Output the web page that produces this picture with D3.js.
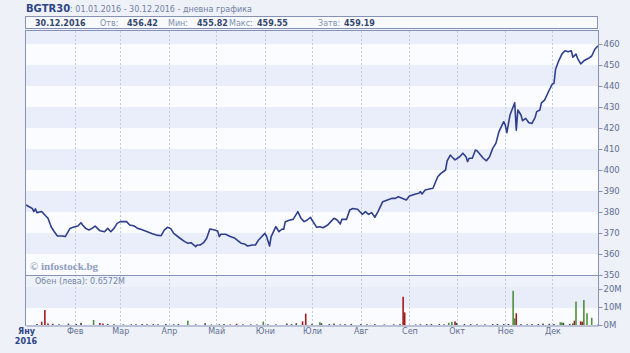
<!DOCTYPE html>
<html>
<head>
<meta charset="utf-8">
<script src="https://cdn.jsdelivr.net/npm/d3@7"></script>
<style>
  body { margin: 0; background: #eef1f8; }
  svg { display: block; }
  text { font-family: "DejaVu Sans", Verdana, sans-serif; }
</style>
</head>
<body>
<svg id="chart" width="630" height="353"></svg>
<script>
// price series (BGTR30, 2016)
var priceDates = ["01-01","01-03","01-05","01-06","01-07","01-08","01-11","01-13","01-15","01-17","01-19","01-21","01-24","01-26","01-29","01-31",
  "02-03","02-05","02-06","02-08","02-10","02-12","02-14","02-17","02-20","02-22","02-24","02-26","02-28",
  "03-01","03-05","03-07","03-10","03-12","03-14","03-17","03-21","03-24","03-27","03-29","03-31",
  "04-02","04-04","04-08","04-11","04-13","04-15","04-18","04-19","04-21","04-23","04-25","04-27","04-30",
  "05-02","05-03","05-04","05-07","05-10","05-13","05-17","05-19","05-21","05-24","05-26","05-28",
  "06-01","06-02","06-04","06-05","06-08","06-10","06-12","06-13","06-14","06-17","06-19","06-22","06-24","06-26","06-28","06-30",
  "07-01","07-04","07-06","07-08","07-11","07-13","07-15","07-17","07-19","07-20","07-23","07-25","07-27","07-30",
  "08-02","08-04","08-06","08-08","08-10","08-12","08-15","08-18","08-21","08-23","08-25","08-30",
  "09-01","09-05","09-07","09-08","09-09","09-11","09-13","09-16","09-19","09-21","09-24","09-25","09-27","09-28","09-30",
  "10-03","10-05","10-07","10-08","10-09","10-11","10-13","10-14","10-18","10-20","10-22","10-24","10-26","10-28","10-31",
  "11-01","11-02","11-04","11-07","11-08","11-09","11-11","11-12","11-14","11-16","11-18","11-20","11-21","11-23","11-24","11-26","11-29",
  "12-01","12-02","12-03","12-05","12-07","12-09","12-11","12-13","12-14","12-16","12-17","12-19","12-21","12-24","12-26","12-28","12-30"];
var priceValues = [383.3,382.5,381.7,380.2,381.5,379.7,380.2,378.6,377,373,370.6,368.6,368.6,368.3,372.2,372.7,
  373.3,374.9,373.8,372.2,371.4,372.2,373.3,371.1,370.6,372.2,370.6,372.2,374.6,
  375.4,375.4,373.8,373.3,372.2,371.8,371,369.8,369,368.7,371.4,372.7,
  372.2,369.8,367.5,365.9,365.1,365.4,363.5,364.3,364.3,365.4,367.5,371.9,371.4,
  370.9,368.3,369.4,369.4,368.3,367.5,365.1,364.8,363.8,364.3,364.3,366.7,
  369.8,368.6,363.8,368.3,373,370.6,371.9,371.8,375.4,376.2,376.5,380.2,377,375.4,376.2,377.5,
  376.2,372.7,373,372.5,373.8,375.4,377,376.2,374.3,376.5,376.5,381,381.7,381.3,
  378.9,380.2,378.9,379.7,377.5,380.2,384.9,385.7,386.5,386.5,387.3,385.7,
  387.6,388.6,388.9,389.7,388.6,390.5,390.8,391.3,396.8,398.4,400,404.3,407.1,406.3,404.8,
  406.3,408,406.3,404,405.6,405.6,409.5,409.2,405.6,404.4,406.3,410.3,412.7,418.3,423,
  421.4,417.8,426.2,432,419,428.6,426.2,423.5,424.6,422.5,422.2,425.1,427.8,428.6,432,433.3,438.1,
  441,441.3,448,452,455.2,456.8,456.3,456.8,453.7,455.2,453.2,450.5,452,453.2,454.3,457.5,459.19];

// turnover in millions of leva; u = up day, d = down day, n = small/flat
var volDates = ["01-08","01-11","01-13","01-15","01-18","01-22","01-28","02-02","02-05","02-13","02-17","02-19","02-22","02-26",
  "03-03","03-08","03-11","03-15","03-18","03-22","03-25","03-30","04-04","04-07","04-13","04-18","04-24","04-28",
  "05-03","05-06","05-10","05-14","05-18","05-23","05-27","05-31","06-03","06-08","06-15","06-18","06-21","06-25","06-27",
  "07-01","07-06","07-07","07-12","07-15","07-19","07-22","07-26","08-01","08-05","08-10","08-16","08-22","08-26","08-28","08-29",
  "09-05","09-08","09-12","09-15","09-20","09-23","09-26","09-28","09-30","10-01","10-06","10-10","10-14","10-19","10-24","10-27","10-31",
  "11-03","11-06","11-07","11-08","11-11","11-15","11-18","11-22","11-25","11-29",
  "12-02","12-06","12-07","12-08","12-12","12-14","12-15","12-16","12-19","12-20","12-21","12-23","12-26","12-30"];
var volValues = [0.5,1.8,8.3,0.9,0.7,0.4,0.8,0.5,1.2,2.8,1.1,0.8,0.6,0.4,
  0.3,0.4,0.4,0.5,0.4,0.5,0.4,0.6,0.4,0.5,2.4,0.4,1.0,0.3,
  0.4,0.5,0.3,0.7,0.4,0.4,0.3,1.9,0.4,0.4,0.8,0.5,1.0,2.0,6.3,
  0.6,1.6,1.0,0.5,0.8,0.4,0.5,0.6,0.5,0.4,0.5,0.3,0.4,0.5,15.7,7.0,
  0.3,0.4,0.5,0.6,0.5,0.4,1.3,1.8,2.0,1.2,0.6,0.5,0.4,0.4,0.5,0.6,0.5,
  0.6,19,3.7,6.5,0.5,0.4,0.5,0.6,0.8,0.7,
  0.6,1.5,1.4,1.2,0.6,0.8,2.4,13,2.0,1.8,13.9,6.5,4.0,0.3];
var volDir = ["n","d","d","d","n","n","n","n","n","u","d","d","n","n",
  "n","n","n","n","n","n","n","n","n","n","u","n","n","n",
  "n","n","n","d","n","n","n","u","n","n","n","n","n","d","d",
  "n","u","n","n","n","n","n","n","n","n","n","n","n","n","d","d",
  "n","n","n","n","n","n","u","u","d","n","n","n","n","n","n","n","n",
  "n","u","u","d","n","n","n","n","n","n",
  "n","u","u","n","n","n","d","u","d","d","u","u","u","n"];

var monthNames = ["Яну","Фев","Мар","Апр","Май","Юни","Юли","Авг","Сеп","Окт","Ное","Дек"];
var priceTicks = [350,360,370,380,390,400,410,420,430,440,450,460];
var volTicks = [0,10,20];

var svg = d3.select("#chart");
var parse = function(s) { return d3.timeParse("%Y-%m-%d")("2016-" + s); };

var left = 26, right = 598;
var mainTop = 31, mainBottom = 275;
var volTop = 276, volBottom = 325;

var x = d3.scaleTime()
    .domain([new Date(2016, 0, 1), new Date(2016, 11, 30)])
    .range([left, right]);
var y = d3.scaleLinear().domain([350, 466.2]).range([mainBottom, mainTop]);
var yv = d3.scaleLinear().domain([0, 20]).range([volBottom, 289]);

var axisCol = "#8592b5";
var labelCol = "#5f6f92";

// title
var title = svg.append("text").attr("x", 26).attr("y", 12).style("font-size", "8px");
title.append("tspan").text("BGTR30").style("font-weight", "bold").style("font-size", "10px").attr("fill", "#2c4585");
title.append("tspan").text(": 01.01.2016 - 30.12.2016 - дневна графика").attr("fill", "#7080a5");

// header box
svg.append("rect").attr("x", 25.5).attr("y", 16.5).attr("width", 572).attr("height", 12)
    .attr("fill", "#f9fafd").attr("stroke", axisCol);
var hdr = [
  {t: "30.12.2016", x: 35, b: true},
  {t: "Отв:", x: 100, b: false}, {t: "456.42", x: 127, b: true},
  {t: "Мин:", x: 168, b: false}, {t: "455.82", x: 197, b: true},
  {t: "Макс:", x: 229, b: false}, {t: "459.55", x: 257, b: true},
  {t: "Затв:", x: 318, b: false}, {t: "459.19", x: 344, b: true}
];
svg.selectAll("text.hdr").data(hdr).enter().append("text")
    .attr("class", "hdr")
    .attr("x", function(d) { return d.x; })
    .attr("y", 26)
    .style("font-size", "8px")
    .style("font-weight", function(d) { return d.b ? "bold" : "normal"; })
    .attr("fill", function(d) { return d.b ? "#33466e" : "#8290ae"; })
    .text(function(d) { return d.t; });

// main panel bands
svg.append("rect").attr("x", left).attr("y", mainTop).attr("width", right - left)
    .attr("height", mainBottom - mainTop).attr("fill", "#e9eefa");
svg.selectAll("rect.band").data(priceTicks.slice(0, -1)).enter().append("rect")
    .attr("class", "band")
    .attr("x", left)
    .attr("y", function(d) { return y(d + 10); })
    .attr("width", right - left)
    .attr("height", function(d) { return y(d) - y(d + 10); })
    .attr("fill", function(d, i) { return i % 2 == 0 ? "#fbfcff" : "#e9eefa"; });

// volume panel bands
svg.append("rect").attr("x", left).attr("y", volTop).attr("width", right - left)
    .attr("height", volBottom - volTop).attr("fill", "#eef2fa");
svg.append("rect").attr("x", left).attr("y", yv(20) - 2).attr("width", right - left)
    .attr("height", yv(10) - yv(20) + 3).attr("fill", "#e8edf9");
svg.append("rect").attr("x", left).attr("y", yv(10) + 1).attr("width", right - left)
    .attr("height", yv(0) - yv(10) - 1).attr("fill", "#fbfcff");

// month gridlines
var months = d3.timeMonth.range(new Date(2016, 0, 1), new Date(2016, 11, 31));
svg.selectAll("line.grid").data(months.slice(1)).enter().append("line")
    .attr("class", "grid")
    .attr("x1", function(d) { return Math.round(x(d)) + 0.5; })
    .attr("x2", function(d) { return Math.round(x(d)) + 0.5; })
    .attr("y1", mainTop).attr("y2", volBottom)
    .attr("stroke", "#c3cbe2").attr("stroke-dasharray", "2,2");

// watermark
svg.append("text").attr("x", 30).attr("y", 270)
    .style("font-family", "'Liberation Serif', 'DejaVu Serif', serif")
    .style("font-weight", "bold").style("font-size", "11px")
    .attr("fill", "#8e9cc0").text("© infostock.bg");

// price line
var pts = priceDates.map(function(d, i) { return [parse(d), priceValues[i]]; });
var line = d3.line()
    .x(function(d) { return x(d[0]); })
    .y(function(d) { return y(d[1]); });
svg.append("path").datum(pts)
    .attr("d", line)
    .attr("fill", "none")
    .attr("stroke", "#2f3f8c")
    .attr("stroke-width", 1.6)
    .attr("stroke-linejoin", "round");

// volume bars
var dirCol = {u: "#4f8f3f", d: "#a11c1c", n: "#3d4a3d"};
svg.selectAll("rect.vol").data(volDates).enter().append("rect")
    .attr("class", "vol")
    .attr("x", function(d) { return x(parse(d)) - 0.8; })
    .attr("y", function(d, i) { return yv(volValues[i]); })
    .attr("width", 1.6)
    .attr("height", function(d, i) { return yv(0) - yv(volValues[i]); })
    .attr("fill", function(d, i) { return dirCol[volDir[i]]; });

svg.append("text").attr("x", 35).attr("y", 284).style("font-size", "8px")
    .attr("fill", "#7585a8").text("Обен (лева): 0.6572M");

// panel borders
svg.append("line").attr("x1", left).attr("x2", right).attr("y1", mainTop - 0.5).attr("y2", mainTop - 0.5).attr("stroke", axisCol);
svg.append("line").attr("x1", left).attr("x2", right).attr("y1", mainBottom + 0.5).attr("y2", mainBottom + 0.5).attr("stroke", axisCol);
svg.append("line").attr("x1", left - 0.5).attr("x2", left - 0.5).attr("y1", mainTop - 1).attr("y2", volBottom + 1).attr("stroke", axisCol);

// right axes
var yAxis = d3.axisRight(y).tickValues(priceTicks).tickSize(4).tickFormat(d3.format("d"));
var gy = svg.append("g").attr("transform", "translate(" + (right + 0.5) + ",0)").call(yAxis);
var yvAxis = d3.axisRight(yv).tickValues(volTicks).tickSize(4).tickFormat(function(d) { return d + "M"; });
var gv = svg.append("g").attr("transform", "translate(" + (right + 0.5) + ",0)").call(yvAxis);
[gy, gv].forEach(function(g) {
  g.select(".domain").remove();
  g.selectAll(".tick line").attr("stroke", axisCol);
  g.selectAll(".tick text").attr("x", 5).attr("fill", labelCol)
      .style("font-size", "8.5px").style("font-family", "'DejaVu Sans', sans-serif");
});
svg.append("line").attr("x1", right + 0.5).attr("x2", right + 0.5).attr("y1", mainTop - 1).attr("y2", volBottom + 1).attr("stroke", axisCol);

// bottom axis
var xAxis = d3.axisBottom(x).tickValues(months).tickSize(0)
    .tickFormat(function(d, i) { return monthNames[i]; });
var gx = svg.append("g").attr("transform", "translate(0," + (volBottom + 0.5) + ")").call(xAxis);
gx.select(".domain").attr("stroke", axisCol);
gx.selectAll(".tick text").attr("y", 3)
    .style("font-size", "8px").style("font-family", "'DejaVu Sans', sans-serif")
    .style("font-weight", function(d, i) { return i == 0 ? "bold" : "normal"; })
    .attr("fill", function(d, i) { return i == 0 ? "#2c4585" : labelCol; });
svg.append("text").attr("x", x(months[0])).attr("y", 344).attr("text-anchor", "middle")
    .style("font-size", "8px").style("font-weight", "bold").attr("fill", "#2c4585").text("2016");
</script>
</body>
</html>
